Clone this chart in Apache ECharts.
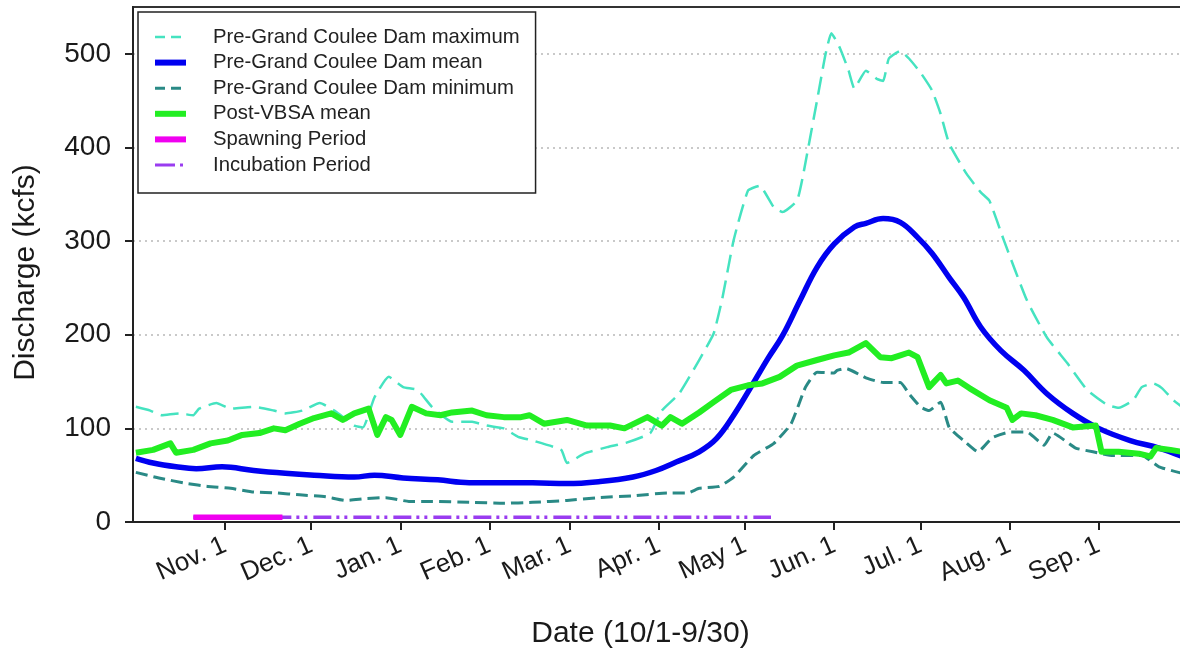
<!DOCTYPE html>
<html>
<head>
<meta charset="utf-8">
<title>Discharge (kcfs)</title>
<script src="https://cdn.jsdelivr.net/npm/echarts@6/dist/echarts.min.js"></script>
<style>
  html, body { margin: 0; padding: 0; background: #fff; }
  #chart { width: 1180px; height: 649px; }
</style>
</head>
<body>
<div id="chart"></div>
<script>
// Day of the water year: Oct. 1 = 1 ... Sep. 30 = 365
const monthDays = [32, 62, 93, 124, 152, 183, 213, 244, 274, 305, 336];
const monthLabels = ['Nov. 1', 'Dec. 1', 'Jan. 1', 'Feb. 1', 'Mar. 1', 'Apr. 1',
                     'May 1', 'Jun. 1', 'Jul. 1', 'Aug. 1', 'Sep. 1'];
const yTicks = [0, 100, 200, 300, 400, 500];

// Discharge in kcfs, [day, value]
const preMax = [
  [1,123],[6,119],[10,114],[16,116],[21,114],[23,121],[29,127],[34,121],[42,123],[49,119],
  [53,116],[59,119],[65,127],[71,117],[77,103],[80,101],[84,133],[89,155],[94,144],[99,141],
  [104,123],[111,107],[118,107],[123,103],[129,100],[134,91],[139,87],[149,77],[151,63],[157,73],
  [165,80],[172,85],[180,95],[184,119],[190,137],[197,173],[202,201],[205,238],[209,301],[214,354],
  [218,359],[223,336],[226,331],[231,343],[233,368],[238,450],[241,500],[243,522],[246,506],[249,482],
  [251,463],[255,482],[259,473],[261,471],[263,495],[267,503],[270,495],[274,480],[278,461],[281,436],
  [284,404],[290,372],[295,352],[298,343],[303,301],[311,237],[318,197],[325,170],[332,141],[339,125],
  [343,122],[348,130],[351,144],[355,148],[358,143],[362,130],[365,123]
];
const preMean = [
  [1,68],[7,63],[15,59],[22,57],[31,59],[42,55],[53,52],[63,50],[77,48],[84,50],
  [94,47],[106,45],[117,42],[129,42],[139,42],[151,41],[162,43],[174,48],[182,55],[189,64],
  [197,75],[203,89],[209,114],[215,144],[221,175],[226,199],[232,236],[238,272],[244,297],[251,315],
  [255,319],[261,324],[267,320],[273,304],[278,287],[284,261],[289,240],[295,208],[302,183],[310,162],
  [318,137],[327,116],[336,100],[347,87],[357,79],[365,70]
];
const preMin = [
  [1,53],[9,47],[19,41],[26,38],[34,36],[42,32],[50,31],[58,29],[67,27],[74,23],
  [81,25],[88,26],[96,22],[104,22],[117,21],[129,20],[139,21],[151,23],[162,26],[174,28],
  [186,31],[193,31],[197,36],[204,38],[209,48],[216,71],[223,84],[229,105],[234,144],[238,160],
  [244,159],[245,162],[248,164],[255,154],[261,149],[267,149],[270,137],[274,123],[277,119],[281,128],
  [284,101],[289,87],[294,75],[299,90],[305,96],[311,96],[317,82],[320,95],[328,79],[334,75],
  [341,71],[351,71],[357,59],[365,52]
];
const postVbsaMean = [
  [1,74],[7,77],[13,84],[15,74],[21,77],[27,84],[33,87],[38,93],[44,95],[49,100],
  [53,98],[58,105],[63,111],[69,116],[73,109],[77,116],[82,121],[85,93],[88,112],[90,109],
  [93,93],[97,123],[102,116],[107,114],[111,117],[118,119],[123,114],[129,112],[135,112],[138,114],
  [143,105],[151,109],[158,103],[166,103],[171,100],[179,112],[184,103],[187,112],[191,105],[197,117],
  [202,128],[208,141],[214,146],[219,148],[225,155],[231,167],[238,173],[244,178],[249,181],[255,191],
  [260,176],[264,175],[267,178],[270,181],[273,176],[277,144],[281,157],[283,148],[287,151],[291,143],
  [298,130],[304,122],[306,109],[309,116],[314,114],[320,109],[327,101],[335,103],[337,75],[343,75],
  [350,73],[354,70],[356,79],[361,77],[365,75]
];
const spawning = [[21,5],[52,5]];
const incubation = [[21,5],[222,5]];

const FONT = '"Liberation Sans", Arial, sans-serif';
const INK = '#1a1a1a';

const chart = echarts.init(document.getElementById('chart'), null, { renderer: 'canvas' });

function lineSeries(name, data, color, width, type, z, smooth) {
  return {
    name, type: 'line', data,
    showSymbol: false, symbol: 'none',
    smooth: smooth || false,
    lineStyle: { color, width, type, cap: 'butt', join: 'round' },
    itemStyle: { color },
    z, silent: true, animation: false
  };
}

chart.setOption({
  backgroundColor: '#fff',
  animation: false,
  grid: {
    left: 133, top: 7, width: 1049, height: 515,
    outerBoundsMode: 'none', containLabel: false,
    show: true, borderColor: '#333', borderWidth: 2, backgroundColor: 'transparent'
  },
  legend: {
    orient: 'vertical', left: 138, top: 12,
    padding: [15, 16, 18, 14],
    itemWidth: 31, itemHeight: 14, itemGap: 5.6,
    itemStyle: { opacity: 0 },
    backgroundColor: '#fff', borderColor: '#222', borderWidth: 1.5,
    textStyle: { fontFamily: FONT, fontSize: 20.3, color: '#222', lineHeight: 20, padding: [0, 0, 0, 22] },
    selectedMode: false,
    data: [
      { name: 'Pre-Grand Coulee Dam maximum', lineStyle: { width: 2.5, type: [10, 6] } },
      { name: 'Pre-Grand Coulee Dam mean', lineStyle: { width: 6 } },
      { name: 'Pre-Grand Coulee Dam minimum', lineStyle: { width: 3, type: [10, 6] } },
      { name: 'Post-VBSA mean', lineStyle: { width: 6 } },
      { name: 'Spawning Period', lineStyle: { width: 6 } },
      { name: 'Incubation Period', lineStyle: { width: 3, type: [20, 5, 3, 20] } }
    ]
  },
  xAxis: {
    type: 'value', min: 0, max: 365,
    name: 'Date (10/1-9/30)', nameLocation: 'middle', nameGap: 97,
    nameTextStyle: { fontFamily: FONT, fontSize: 30, color: INK, padding: [0, 34, 0, 0] },
    axisLine: { onZero: false, lineStyle: { color: '#222', width: 2 } },
    axisTick: { show: true, inside: false, length: 8, lineStyle: { color: '#222', width: 2 }, customValues: monthDays },
    axisLabel: {
      customValues: monthDays, rotate: 24, margin: 22,
      fontFamily: FONT, fontSize: 26, color: INK,
      formatter: v => monthLabels[monthDays.indexOf(v)] || ''
    },
    splitLine: { show: false }
  },
  yAxis: {
    type: 'value', min: 0, max: 550,
    name: 'Discharge (kcfs)', nameLocation: 'middle', nameGap: 92,
    nameTextStyle: { fontFamily: FONT, fontSize: 30, color: INK, padding: [0, 16, 0, 0] },
    axisLine: { show: true, lineStyle: { color: '#222', width: 2 } },
    axisTick: { show: true, length: 8, lineStyle: { color: '#222', width: 2 }, customValues: yTicks },
    axisLabel: { customValues: yTicks, margin: 22, fontFamily: FONT, fontSize: 28, color: INK },
    splitLine: { show: true, lineStyle: { color: '#b8b8b8', width: 1.5, type: [2, 4] } }
  },
  series: [
    lineSeries('Pre-Grand Coulee Dam maximum', preMax, '#45e3c0', 2.5, [18, 8], 2, 0.15),
    lineSeries('Pre-Grand Coulee Dam mean', preMean, '#0000f0', 5.5, 'solid', 4, 0.4),
    lineSeries('Pre-Grand Coulee Dam minimum', preMin, '#2a8a86', 3, [12, 6], 3, 0.15),
    lineSeries('Post-VBSA mean', postVbsaMean, '#22ee22', 6, 'solid', 5, 0),
    lineSeries('Incubation Period', incubation, '#9a3cf0', 3.5, [18, 5, 3, 5, 3, 6], 6, 0),
    lineSeries('Spawning Period', spawning, '#f000f0', 5.5, 'solid', 7, 0)
  ]
});
</script>
</body>
</html>
